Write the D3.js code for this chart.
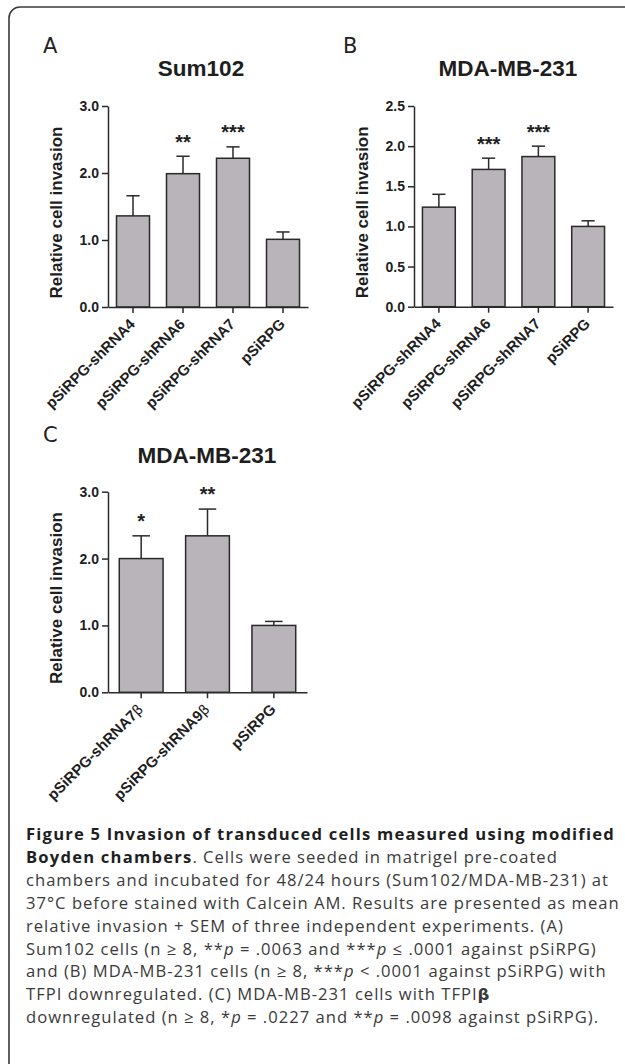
<!DOCTYPE html>
<html><head><meta charset="utf-8">
<script src="https://cdn.jsdelivr.net/npm/d3@7"></script>
<style>body{margin:0;background:#fff}svg{display:block}</style>
</head><body>
<svg id="fig" width="625" height="1064"></svg>
<script>
// ---------- data ----------
const catsAB = ["pSiRPG-shRNA4", "pSiRPG-shRNA6", "pSiRPG-shRNA7", "pSiRPG"];
const sum102Mean = [1.36, 1.99, 2.22, 1.01];
const sum102Sem  = [0.30, 0.26, 0.17, 0.11];
const sum102Sig  = ["", "**", "***", ""];
const sum102Ticks = [0, 1, 2, 3];

const mdaMean = [1.24, 1.71, 1.87, 1.00];
const mdaSem  = [0.16, 0.14, 0.13, 0.07];
const mdaSig  = ["", "***", "***", ""];
const mdaTicks = [0, 0.5, 1, 1.5, 2, 2.5];

const catsC = ["pSiRPG-shRNA7β", "pSiRPG-shRNA9β", "pSiRPG"];
const betaMean = [2.00, 2.34, 1.00];
const betaSem  = [0.34, 0.40, 0.06];
const betaSig  = ["*", "**", ""];
const betaTicks = [0, 1, 2, 3];

const yLabel = "Relative cell invasion";

const captionLines = [
  [["Figure 5 Invasion of transduced cells measured using modified", "b"]],
  [["Boyden chambers", "b"], [". Cells were seeded in matrigel pre-coated", "n"]],
  [["chambers and incubated for 48/24 hours (Sum102/MDA-MB-231) at", "n"]],
  [["37°C before stained with Calcein AM. Results are presented as mean", "n"]],
  [["relative invasion + SEM of three independent experiments. (A)", "n"]],
  [["Sum102 cells (n ≥ 8, **", "n"], ["p", "i"], [" = .0063 and ***", "n"], ["p", "i"], [" ≤ .0001 against pSiRPG)", "n"]],
  [["and (B) MDA-MB-231 cells (n ≥ 8, ***", "n"], ["p", "i"], [" < .0001 against pSiRPG) with", "n"]],
  [["TFPI downregulated. (C) MDA-MB-231 cells with TFPI", "n"], ["β", "beta"]],
  [["downregulated (n ≥ 8, *", "n"], ["p", "i"], [" = .0227 and **", "n"], ["p", "i"], [" = .0098 against pSiRPG).", "n"]]
];

// ---------- drawing ----------
const svg = d3.select("#fig");
const FONT = "'Liberation Sans', Arial, sans-serif";
const INK = "#1e1e1e";

svg.append("path")
  .attr("d", "M9,1070 V18 A11,11 0 0 1 20,7 H630")
  .attr("fill", "none").attr("stroke", "#3a3a3a").attr("stroke-width", 1.6);

function panel(o) {
  const g = svg.append("g").attr("font-family", FONT).attr("fill", INK);
  const x = d3.scaleBand().domain(o.cats).range([o.x0, o.x1]).paddingInner(0.34).paddingOuter(0.17);
  const y = d3.scaleLinear().domain([0, o.ymax]).range([o.y0, o.y1]);
  const bw = x.bandwidth();
  const rows = o.cats.map((c, i) => ({c, m: o.mean[i], e: o.sem[i], s: o.sig[i]}));

  // error bars (upper only)
  const eb = g.append("g").attr("stroke", "#2a2a2a").attr("stroke-width", 1.5).attr("fill", "none");
  eb.selectAll("line.v").data(rows).join("line")
    .attr("x1", d => x(d.c) + bw / 2).attr("x2", d => x(d.c) + bw / 2)
    .attr("y1", d => y(d.m)).attr("y2", d => y(d.m + d.e));
  eb.selectAll("line.h").data(rows).join("line")
    .attr("x1", d => x(d.c) + bw / 2 - bw * 0.2).attr("x2", d => x(d.c) + bw / 2 + bw * 0.2)
    .attr("y1", d => y(d.m + d.e)).attr("y2", d => y(d.m + d.e));

  // bars
  g.append("g").selectAll("rect").data(rows).join("rect")
    .attr("x", d => x(d.c)).attr("y", d => y(d.m))
    .attr("width", bw).attr("height", d => y(0) - y(d.m))
    .attr("fill", "#b8b4b9").attr("stroke", "#2a2a2a").attr("stroke-width", 1.5);

  // significance stars
  g.append("g").selectAll("text").data(rows.filter(d => d.s)).join("text")
    .attr("x", d => x(d.c) + bw / 2).attr("y", d => y(d.m + d.e) - 19 + 0.57 * 20)
    .attr("text-anchor", "middle").attr("font-size", 20).attr("font-weight", "bold")
    .text(d => d.s);

  // y axis
  const ya = g.append("g").attr("transform", `translate(${o.x0},0)`)
    .call(d3.axisLeft(y).tickValues(o.ticks).tickFormat(d3.format(".1f")).tickSize(6).tickPadding(3).tickSizeOuter(0));
  ya.select(".domain").attr("stroke", "#2a2a2a").attr("stroke-width", 1.5);
  ya.selectAll(".tick line").attr("stroke", "#2a2a2a").attr("stroke-width", 1.5);
  ya.selectAll(".tick text").attr("font-family", FONT).attr("font-size", 14).attr("font-weight", "bold").attr("fill", INK);

  // x axis
  const xa = g.append("g").attr("transform", `translate(0,${o.y0})`)
    .call(d3.axisBottom(x).tickSize(6).tickSizeOuter(0).tickFormat(""));
  xa.select(".domain").attr("stroke", "#2a2a2a").attr("stroke-width", 1.5);
  xa.selectAll(".tick line").attr("stroke", "#2a2a2a").attr("stroke-width", 1.5);
  xa.selectAll(".tick text").remove();

  // rotated category labels
  const lab = g.append("g").selectAll("text").data(o.cats).join("text")
    .attr("transform", d => `translate(${x(d) + bw / 2 + 3},${o.y0 + 18}) rotate(-45)`)
    .attr("text-anchor", "end").attr("font-size", 15).attr("font-weight", "bold");
  lab.each(function (d) {
    const t = d3.select(this);
    const parts = d.split("β");
    t.append("tspan").text(parts[0]);
    if (parts.length > 1) t.append("tspan").attr("font-weight", "normal").attr("font-family", "'DejaVu Sans', sans-serif").attr("font-size", 14).text("β");
  });

  // y label
  g.append("text")
    .attr("transform", `translate(${o.x0 - 46},${(o.y0 + o.y1) / 2 + 6}) rotate(-90)`)
    .attr("text-anchor", "middle").attr("font-size", 17).attr("font-weight", "bold")
    .text(yLabel);

  // title and panel letter
  g.append("text").attr("x", o.titleX).attr("y", o.titleY).attr("text-anchor", "middle")
    .attr("font-size", 22.5).attr("font-weight", "bold").text(o.title);
  g.append("text").attr("x", o.letterX).attr("y", o.letterY)
    .attr("font-size", 21).attr("font-family", "'DejaVu Sans', sans-serif").attr("font-weight", "normal").attr("fill", "#222")
    .text(o.letter);
}

panel({cats: catsAB, mean: sum102Mean, sem: sum102Sem, sig: sum102Sig, ticks: sum102Ticks, ymax: 3,
  x0: 108, x1: 308, y0: 307, y1: 106, title: "Sum102", titleX: 201, titleY: 76, letter: "A", letterX: 43, letterY: 53});
panel({cats: catsAB, mean: mdaMean, sem: mdaSem, sig: mdaSig, ticks: mdaTicks, ymax: 2.5,
  x0: 414, x1: 613, y0: 306.7, y1: 106, title: "MDA-MB-231", titleX: 508, titleY: 76, letter: "B", letterX: 343, letterY: 53});
panel({cats: catsC, mean: betaMean, sem: betaSem, sig: betaSig, ticks: betaTicks, ymax: 3,
  x0: 108, x1: 307, y0: 692.3, y1: 491.7, title: "MDA-MB-231", titleX: 207, titleY: 463, letter: "C", letterX: 43, letterY: 442});

// ---------- caption ----------
const CAPF = "'Open Sans', 'Noto Sans', sans-serif";
const cap = svg.append("g").attr("font-family", CAPF);
function measure(txt, weight, fs) {
  const t = cap.append("text").attr("font-size", fs).attr("font-weight", weight).text(txt);
  const w = t.node().getComputedTextLength();
  t.remove();
  return w;
}
const l0 = captionLines[0][0][0], l2 = captionLines[2][0][0];
const FSB = Math.min(16.6, 16 * 589 / measure(l0, "bold", 16));
const FSN = Math.min(16.6, 16 * 583 / measure(l2, "normal", 16));
const lsB = (589 - measure(l0, "bold", FSB)) / l0.length;
const lsN = (583 - measure(l2, "normal", FSN)) / l2.length;
captionLines.forEach((segs, i) => {
  const t = cap.append("text").attr("x", 26).attr("y", 840 + 22.9 * i);
  segs.forEach(([s, st]) => {
    const sp = t.append("tspan").text(s);
    if (st === "b") sp.attr("font-weight", "bold").attr("font-size", FSB).attr("letter-spacing", lsB).attr("fill", "#1f1f1f");
    else sp.attr("font-size", FSN).attr("letter-spacing", lsN).attr("fill", "#3a3a3a");
    if (st === "i") sp.attr("font-style", "italic");
    if (st === "beta") sp.attr("font-family", "'DejaVu Sans', sans-serif").attr("font-weight", "bold");
  });
});
</script>
</body></html>
